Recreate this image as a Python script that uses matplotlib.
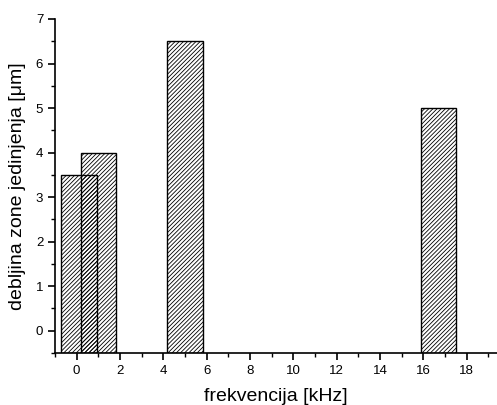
import matplotlib
matplotlib.use("Agg")
import matplotlib.pyplot as plt
from matplotlib.ticker import MultipleLocator

plt.rcParams['font.family'] = ['Liberation Sans', 'DejaVu Sans']
plt.rcParams['hatch.linewidth'] = 0.6

# frequency [kHz] and thickness [um]
freq = [0.1, 1.0, 5.0, 16.7]
thickness = [3.5, 4.0, 6.5, 5.0]
bar_width = 1.63
y_bottom = -0.5

fig = plt.figure(figsize=(4.97, 4.05), dpi=100)
ax = fig.add_axes([0.1107, 0.1284, 0.8893, 0.8247])

for f, t in zip(freq, thickness):
    ax.bar(f, t - y_bottom, width=bar_width, bottom=y_bottom,
           facecolor='none', edgecolor='black', hatch='////////', linewidth=1.0)

ax.set_xlim(-1.0, 19.4)
ax.set_ylim(y_bottom, 7)
ax.xaxis.set_major_locator(MultipleLocator(2))
ax.xaxis.set_minor_locator(MultipleLocator(1))
ax.yaxis.set_major_locator(MultipleLocator(1))
ax.yaxis.set_minor_locator(MultipleLocator(0.5))

ax.spines['top'].set_visible(False)
ax.spines['right'].set_visible(False)
ax.spines['left'].set_linewidth(1.2)
ax.spines['bottom'].set_linewidth(1.2)
ax.tick_params(which='major', direction='out', length=5, width=1.2, labelsize=9.5)
ax.tick_params(which='minor', direction='out', length=3, width=1.0)

ax.set_xlabel('frekvencija [kHz]', fontsize=14, labelpad=8)
ax.set_ylabel('debljina zone jedinjenja [μm]', fontsize=14, labelpad=7)

fig.savefig('out.png', dpi=100)
